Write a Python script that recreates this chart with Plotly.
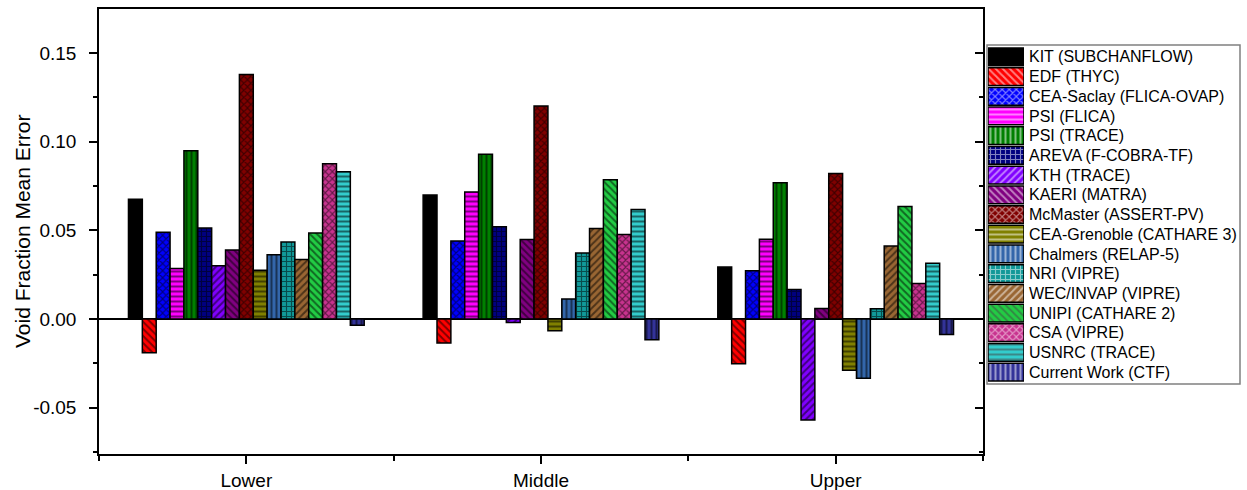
import plotly.graph_objects as go

categories = ["Lower", "Middle", "Upper"]

series_names = [
    "KIT (SUBCHANFLOW)", "EDF (THYC)", "CEA-Saclay (FLICA-OVAP)", "PSI (FLICA)",
    "PSI (TRACE)", "AREVA (F-COBRA-TF)", "KTH (TRACE)", "KAERI (MATRA)",
    "McMaster (ASSERT-PV)", "CEA-Grenoble (CATHARE 3)", "Chalmers (RELAP-5)",
    "NRI (VIPRE)", "WEC/INVAP (VIPRE)", "UNIPI (CATHARE 2)", "CSA (VIPRE)",
    "USNRC (TRACE)", "Current Work (CTF)",
]

kit = [0.0676, 0.0700, 0.0293]
edf = [-0.0191, -0.0136, -0.0253]
cea_saclay = [0.0489, 0.0440, 0.0272]
psi_flica = [0.0285, 0.0717, 0.0450]
psi_trace = [0.0949, 0.0929, 0.0768]
areva = [0.0513, 0.0521, 0.0166]
kth = [0.0300, -0.0020, -0.0570]
kaeri = [0.0389, 0.0449, 0.0059]
mcmaster = [0.1380, 0.1202, 0.0821]
cea_grenoble = [0.0275, -0.0066, -0.0290]
chalmers = [0.0362, 0.0113, -0.0334]
nri = [0.0434, 0.0372, 0.0057]
wec = [0.0336, 0.0510, 0.0412]
unipi = [0.0485, 0.0785, 0.0634]
csa = [0.0876, 0.0476, 0.0200]
usnrc = [0.0830, 0.0617, 0.0315]
ctf = [-0.0036, -0.0117, -0.0087]

series_values = [kit, edf, cea_saclay, psi_flica, psi_trace, areva, kth, kaeri,
                 mcmaster, cea_grenoble, chalmers, nri, wec, unipi, csa, usnrc, ctf]

colors = ["#000000", "#FF0000", "#0000FF", "#FF00FF", "#008000", "#000080",
          "#8000FF", "#800080", "#800000", "#808000", "#3366AA", "#119999",
          "#996633", "#22CC44", "#C8338F", "#33CCCC", "#333399"]
patterns = ["", "\\", "x", "-", "|", "+", "/", "\\", "x", "-", "|", "+",
            "/", "\\", "x", "-", "|"]

ytick_vals = [-0.05, 0.0, 0.05, 0.10, 0.15]
ytick_text = ["-0.05", "0.00", "0.05", "0.10", "0.15"]

FONT = "Liberation Sans, Arial, sans-serif"
W, H = 1247, 490
ML, MT, MB = 99, 9, 36
plot_w = W - ML
plot_h = H - MT - MB

def px_x(px):
    return (px - ML) / plot_w

def px_y(py):
    return (H - MB - py) / plot_h

yrange = [-0.0762, 0.1749]
xidx = list(range(len(categories)))

PAT_SIZE = 5
PAT_SOLID = 0.4

fig = go.Figure()
for name, vals, col, pat in zip(series_names, series_values, colors, patterns):
    fig.add_trace(go.Bar(
        x=xidx, y=vals, name=name,
        marker=dict(color=col, line=dict(color="black", width=1.5),
                    pattern=dict(shape=pat, fgcolor="black", bgcolor=col,
                                 size=PAT_SIZE, solidity=PAT_SOLID, fillmode="overlay")),
        xaxis="x", yaxis="y", showlegend=False,
    ))

# dummy trace for right-hand inward ticks axis
fig.add_trace(go.Scatter(x=[0], y=[0], xaxis="x", yaxis="y3", mode="markers",
                         marker=dict(opacity=0), hoverinfo="skip", showlegend=False))

# legend swatches drawn as a bar chart on their own axes
fig.add_trace(go.Bar(
    y=series_names, x=[1] * len(series_names), orientation="h",
    width=0.9,
    marker=dict(color=colors, line=dict(color="black", width=1.5),
                pattern=dict(shape=patterns, fgcolor="black", bgcolor=colors,
                             size=PAT_SIZE, solidity=PAT_SOLID, fillmode="overlay")),
    xaxis="x2", yaxis="y2", showlegend=False, hoverinfo="skip",
))

main_right = px_x(983)

fig.update_layout(
    width=W, height=H,
    margin=dict(l=ML, r=0, t=MT, b=MB),
    paper_bgcolor="white", plot_bgcolor="white",
    barmode="group", bargap=0.2, bargroupgap=0,
    showlegend=False,
    font=dict(family=FONT, color="black"),
    xaxis=dict(
        domain=[0, main_right], range=[-0.5, 2.5],
        tickmode="array", tickvals=xidx, ticktext=categories,
        ticks="outside", ticklen=8, tickwidth=1.5, tickcolor="black",
        minor=dict(tickmode="array", tickvals=[-0.5, 0.5, 1.5, 2.5], ticks="outside",
                   ticklen=5, tickwidth=1.5, tickcolor="black"),
        showline=True, linecolor="black", linewidth=1.5, mirror=True,
        showgrid=False, zeroline=False, automargin=False,
        tickfont=dict(size=19, family=FONT),
    ),
    yaxis=dict(
        range=yrange, domain=[0, 1], anchor="x",
        tickmode="array", tickvals=ytick_vals, ticktext=ytick_text,
        ticks="outside", ticklen=8, tickwidth=1.5, tickcolor="black",
        minor=dict(dtick=0.025, tick0=0, ticks="outside", ticklen=4,
                   tickwidth=1.5, tickcolor="black"),
        showline=True, linecolor="black", linewidth=1.5, mirror=True,
        showgrid=False, zeroline=True, zerolinecolor="black", zerolinewidth=1.5,
        automargin=False, tickfont=dict(size=19, family=FONT),
        ticklabelstandoff=9,
    ),
    yaxis3=dict(
        range=yrange, overlaying="y", side="right", anchor="x",
        tickmode="array", tickvals=ytick_vals,
        ticks="inside", ticklen=8, tickwidth=1.5, tickcolor="black",
        minor=dict(dtick=0.025, tick0=0, ticks="inside", ticklen=4,
                   tickwidth=1.5, tickcolor="black"),
        showticklabels=False, showline=False, showgrid=False, zeroline=False,
        automargin=False,
    ),
    xaxis2=dict(domain=[px_x(988), px_x(1024)], range=[0, 1], anchor="y2",
                visible=False, fixedrange=True),
    yaxis2=dict(domain=[px_y(382), px_y(47)], anchor="x2", side="right",
                type="category", categoryorder="array", categoryarray=series_names,
                autorange="reversed", showline=False, showgrid=False,
                zeroline=False, ticks="", ticklabelstandoff=4,
                tickfont=dict(size=16, family=FONT), automargin=False,
                fixedrange=True),
    shapes=[
        dict(type="rect", xref="paper", yref="paper",
             x0=px_x(987), x1=px_x(1240), y0=px_y(384), y1=px_y(45),
             line=dict(color="#808080", width=1.5), fillcolor="rgba(0,0,0,0)",
             layer="below"),
    ],
    annotations=[
        dict(text="Void Fraction Mean Error", xref="paper", yref="paper",
             x=px_x(23), y=px_y(232), textangle=-90, showarrow=False,
             xanchor="center", yanchor="middle",
             font=dict(size=21, family=FONT, color="black")),
    ],
)

fig.write_html("out.html")
